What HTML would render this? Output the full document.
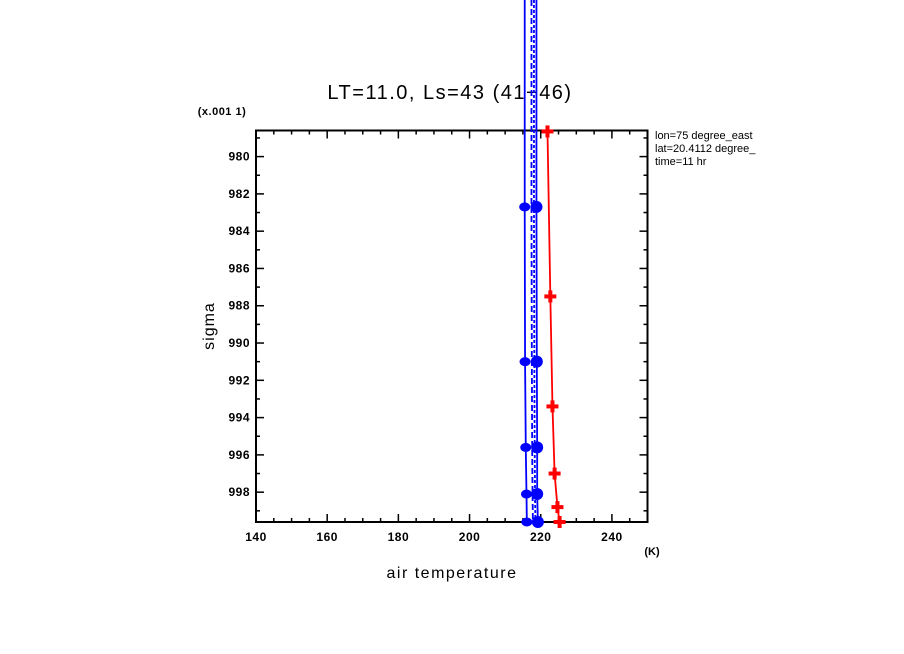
<!DOCTYPE html>
<html><head><meta charset="utf-8"><style>body{margin:0;background:#fff}svg{display:block;font-family:"Liberation Sans",sans-serif}</style></head>
<body>
<svg id="c" width="904" height="654">
<text x="450" y="99" font-size="20" letter-spacing="1.5" text-anchor="middle">LT=11.0, Ls=43 (41−46)</text>
<text x="222" y="115" font-size="11" letter-spacing="0.5" text-anchor="middle" font-weight="bold">(x.001 1)</text>
<text x="655" y="139" font-size="11">lon=75 degree_east</text>
<text x="655" y="152" font-size="11">lat=20.4112 degree_</text>
<text x="655" y="165" font-size="11">time=11 hr</text>
<text x="452" y="578" font-size="16" letter-spacing="1.5" text-anchor="middle">air temperature</text>
<text x="652" y="555" font-size="11" text-anchor="middle" font-weight="bold">(K)</text>
<text transform="translate(214,326) rotate(-90)" font-size="16" letter-spacing="1" text-anchor="middle">sigma</text>
<g id="g"></g>
</svg>
<script>
const xTicks=[140,160,180,200,220,240];
const yTicks=[980,982,984,986,988,990,992,994,996,998];
const blueSig=[982.7,991.0,995.6,998.1,999.6];
const blueA=[215.5,215.6,215.8,216.0,216.1];
const blueB=[218.8,218.9,219.0,219.0,219.2];
const blueDash1=[217.4,217.5,217.6,217.7,217.8];
const blueDash2=[218.1,218.2,218.3,218.4,218.5];
const redSig=[978.65,987.5,993.4,997.0,998.8,999.6];
const redT=[221.9,222.7,223.3,223.9,224.7,225.3];
const L=256,R=647.5,T=130.5,B=522;
const X=v=>L+(v-140)/(250-140)*(R-L);
const Y=s=>T+(s-978.6)/(999.6-978.6)*(B-T);
const g=document.getElementById('g');const NS='http://www.w3.org/2000/svg';
function el(t,a,name){const e=document.createElementNS(NS,t);for(const k in a)e.setAttribute(k,a[k]);


g.appendChild(e);return e;}
el('rect',{x:L,y:T,width:R-L,height:B-T,fill:'none',stroke:'#000','stroke-width':2},'plot-frame');
for(let v=140;v<=250;v+=5){const maj=v%20==0;const x=X(v);
el('line',{x1:x,x2:x,y1:B,y2:B-(maj?8:4),stroke:'#000','stroke-width':1.5},'x-tick');
el('line',{x1:x,x2:x,y1:T,y2:T+(maj?8:4),stroke:'#000','stroke-width':1.5},'x-tick-top');}
xTicks.forEach(v=>{const t=el('text',{x:X(v),y:B+19,'font-size':12,'font-weight':'bold','letter-spacing':0.5,'text-anchor':'middle'},'x-tick-label');t.textContent=v;});
for(let s=979;s<=999;s++){const maj=s%2==0;const y=Y(s);
el('line',{x1:L,x2:L+(maj?8:4),y1:y,y2:y,stroke:'#000','stroke-width':1.5},'y-tick');
el('line',{x1:R,x2:R-(maj?8:4),y1:y,y2:y,stroke:'#000','stroke-width':1.5},'y-tick-right');}
yTicks.forEach(s=>{const t=el('text',{x:L-6,y:Y(s)+4,'font-size':12,'font-weight':'bold','letter-spacing':0.5,'text-anchor':'end'},'y-tick-label');t.textContent=s;});
function line(ts,ss,col,dash,name,extendTop){let pts=ts.map((t,i)=>X(t)+','+Y(ss[i]));if(extendTop)pts.unshift(X(ts[0])+',0');
el('polyline',{points:pts.join(' '),fill:'none',stroke:col,'stroke-width':1.8,'stroke-dasharray':dash||'none'},name);}
line(blueA,blueSig,'#0000ff',null,'blue-line-a',true);
line(blueDash1,blueSig,'#0000ff','6,3','blue-dash-line-1',true);
line(blueDash2,blueSig,'#0000ff','3,2','blue-dash-line-2',true);
line(blueB,blueSig,'#0000ff',null,'blue-line-b',true);
line(redT,redSig,'#ff0000',null,'red-line',false);
blueSig.forEach((s,i)=>{el('ellipse',{cx:X(blueA[i]),cy:Y(s),rx:5.5,ry:4.5,fill:'#0000ff'},'blue-marker-a');
el('circle',{cx:X(blueB[i]),cy:Y(s),r:6,fill:'#0000ff'},'blue-marker-b');});
redSig.forEach((s,i)=>{const x=X(redT[i]),y=Y(s);
el('rect',{x:x-6,y:y-2,width:12,height:4,fill:'#ff0000'},'red-marker-h');
el('rect',{x:x-2,y:y-6,width:4,height:12,fill:'#ff0000'},'red-marker-v');});
</script>
</body></html>
